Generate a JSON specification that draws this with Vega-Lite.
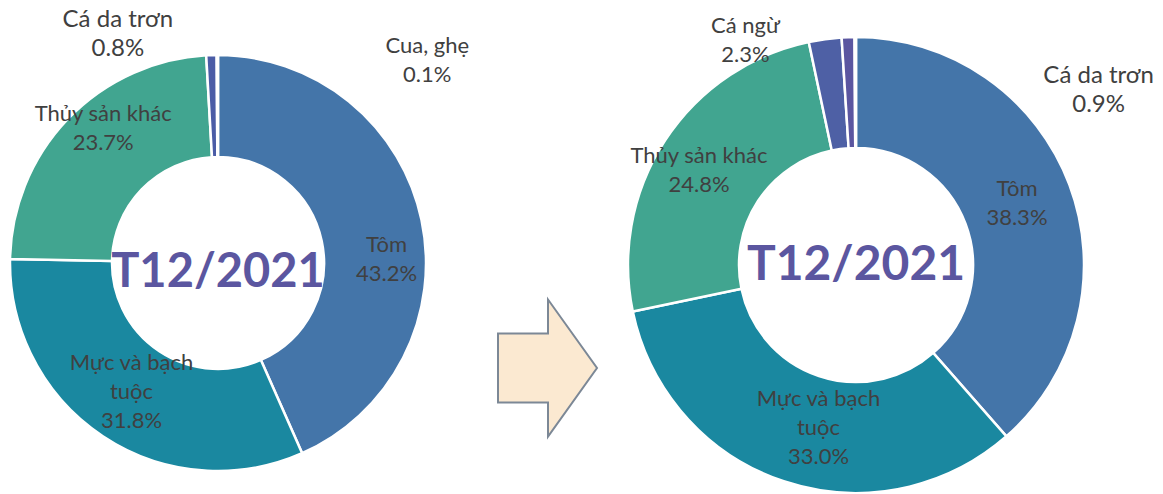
{
  "$schema": "https://vega.github.io/schema/vega-lite/v6.json",
  "padding": 0,
  "spacing": 0,
  "bounds": "flush",
  "background": "white",
  "config": {"view": {"stroke": null}},
  "datasets": {
    "left": [
      {"period": "T12/2021", "category": "Tôm", "value": 43.2, "label": "Tôm\n43.2%"},
      {"period": "T12/2021", "category": "Mực và bạch tuộc", "value": 31.8, "label": "Mực và bạch\ntuộc\n31.8%"},
      {"period": "T12/2021", "category": "Thủy sản khác", "value": 23.7, "label": "Thủy sản khác\n23.7%"},
      {"period": "T12/2021", "category": "Cá da trơn", "value": 0.8, "label": "Cá da trơn\n0.8%"},
      {"period": "T12/2021", "category": "Cua, ghẹ", "value": 0.1, "label": "Cua, ghẹ\n0.1%"}
    ],
    "right": [
      {"period": "T12/2021", "category": "Tôm", "value": 38.3, "label": "Tôm\n38.3%"},
      {"period": "T12/2021", "category": "Mực và bạch tuộc", "value": 33.0, "label": "Mực và bạch\ntuộc\n33.0%"},
      {"period": "T12/2021", "category": "Thủy sản khác", "value": 24.8, "label": "Thủy sản khác\n24.8%"},
      {"period": "T12/2021", "category": "Cá ngừ", "value": 2.3, "label": "Cá ngừ\n2.3%"},
      {"period": "T12/2021", "category": "Cá da trơn", "value": 0.9, "label": "Cá da trơn\n0.9%"},
      {"period": "T12/2021", "category": "Cua, ghẹ", "value": 0.1, "label": ""}
    ]
  },
  "resolve": {"scale": {"color": "independent", "theta": "independent", "y": "independent"}},
  "hconcat": [
    {
      "width": 436,
      "height": 494,
      "data": {"name": "left"},
      "transform": [{"window": [{"op": "row_number", "as": "idx"}]}],
      "encoding": {"y": {"field": "period", "type": "nominal", "scale": {"type": "point", "align": 0.5324}, "axis": null}},
      "layer": [
        {
          "mark": {"type": "arc", "outerRadius": 208, "innerRadius": 106, "stroke": "white", "strokeWidth": 2.5},
          "encoding": {
            "theta": {"field": "value", "type": "quantitative", "stack": true},
            "order": {"field": "idx"},
            "color": {"field": "category", "type": "nominal", "legend": null,
              "scale": {"domain": ["Tôm", "Mực và bạch tuộc", "Thủy sản khác", "Cá da trơn", "Cua, ghẹ"],
                        "range": ["#4475A9", "#1A88A0", "#41A590", "#4B5CA6", "#C9D4E8"]}}
          }
        },
        {
          "mark": {"type": "text", "font": "Lato", "fontSize": 22, "color": "#404040", "align": "center", "baseline": "middle", "lineBreak": "\n", "lineHeight": 29, "radius": 158, "dx": 14, "dy": 15},
          "encoding": {"theta": {"field": "value", "type": "quantitative", "stack": true}, "order": {"field": "idx"}, "detail": {"field": "category"},
            "text": {"condition": {"test": "datum.category === 'Tôm'", "field": "label"}, "value": ""}}
        },
        {
          "mark": {"type": "text", "font": "Lato", "fontSize": 22, "color": "#404040", "align": "center", "baseline": "middle", "lineBreak": "\n", "lineHeight": 29, "radius": 158, "dx": 1, "dy": -32},
          "encoding": {"theta": {"field": "value", "type": "quantitative", "stack": true}, "order": {"field": "idx"}, "detail": {"field": "category"},
            "text": {"condition": {"test": "datum.category === 'Mực và bạch tuộc'", "field": "label"}, "value": ""}}
        },
        {
          "mark": {"type": "text", "font": "Lato", "fontSize": 22, "color": "#404040", "align": "center", "baseline": "middle", "lineBreak": "\n", "lineHeight": 29, "radius": 158, "dx": -1, "dy": -39},
          "encoding": {"theta": {"field": "value", "type": "quantitative", "stack": true}, "order": {"field": "idx"}, "detail": {"field": "category"},
            "text": {"condition": {"test": "datum.category === 'Thủy sản khác'", "field": "label"}, "value": ""}}
        },
        {
          "mark": {"type": "text", "font": "Lato", "fontSize": 24, "color": "#404040", "align": "center", "baseline": "middle", "lineBreak": "\n", "lineHeight": 29, "radius": 100, "dx": -97, "dy": -143},
          "encoding": {"theta": {"field": "value", "type": "quantitative", "stack": true}, "order": {"field": "idx"}, "detail": {"field": "category"},
            "text": {"condition": {"test": "datum.category === 'Cá da trơn'", "field": "label"}, "value": ""}}
        },
        {
          "mark": {"type": "text", "font": "Lato", "fontSize": 22, "color": "#404040", "align": "center", "baseline": "middle", "lineBreak": "\n", "lineHeight": 29, "radius": 230, "dx": 210, "dy": 13},
          "encoding": {"theta": {"field": "value", "type": "quantitative", "stack": true}, "order": {"field": "idx"}, "detail": {"field": "category"},
            "text": {"condition": {"test": "datum.category === 'Cua, ghẹ'", "field": "label"}, "value": ""}}
        },
        {
          "transform": [{"aggregate": [], "groupby": ["period"]}],
          "mark": {"type": "text", "font": "Lato", "fontSize": 47, "fontWeight": "bold", "color": "#5B56A0", "align": "center", "baseline": "alphabetic", "dy": 24},
          "encoding": {"text": {"field": "period", "type": "nominal"}}
        }
      ]
    },
    {
      "width": 222,
      "height": 494,
      "data": {"values": [{"symbol": "arrow"}]},
      "mark": {"type": "point", "shape": "M-0.98,-0.69L0.02,-0.69L0.02,-1.37L1,0L0.02,1.37L0.02,0.69L-0.98,0.69Z", "size": 10000, "filled": true, "fill": "#FBE9D1", "stroke": "#7C8896", "strokeWidth": 2, "opacity": 1, "fillOpacity": 1, "strokeOpacity": 1},
      "encoding": {"y": {"field": "symbol", "type": "nominal", "scale": {"type": "point", "align": 0.745}, "axis": null}}
    },
    {
      "width": 396,
      "height": 494,
      "data": {"name": "right"},
      "transform": [{"window": [{"op": "row_number", "as": "idx"}]}],
      "encoding": {"y": {"field": "period", "type": "nominal", "scale": {"type": "point", "align": 0.5364}, "axis": null}},
      "layer": [
        {
          "mark": {"type": "arc", "outerRadius": 228, "innerRadius": 117, "stroke": "white", "strokeWidth": 2.5},
          "encoding": {
            "theta": {"field": "value", "type": "quantitative", "stack": true},
            "order": {"field": "idx"},
            "color": {"field": "category", "type": "nominal", "legend": null,
              "scale": {"domain": ["Tôm", "Mực và bạch tuộc", "Thủy sản khác", "Cá ngừ", "Cá da trơn", "Cua, ghẹ"],
                        "range": ["#4475A9", "#1A88A0", "#41A590", "#4E60A5", "#5B56A0", "#2A3C62"]}}
          }
        },
        {
          "mark": {"type": "text", "font": "Lato", "fontSize": 22, "color": "#404040", "align": "center", "baseline": "middle", "lineBreak": "\n", "lineHeight": 29, "radius": 172, "dx": 0, "dy": -15},
          "encoding": {"theta": {"field": "value", "type": "quantitative", "stack": true}, "order": {"field": "idx"}, "detail": {"field": "category"},
            "text": {"condition": {"test": "datum.category === 'Tôm'", "field": "label"}, "value": ""}}
        },
        {
          "mark": {"type": "text", "font": "Lato", "fontSize": 22, "color": "#404040", "align": "center", "baseline": "middle", "lineBreak": "\n", "lineHeight": 29, "radius": 172, "dx": 17, "dy": -29},
          "encoding": {"theta": {"field": "value", "type": "quantitative", "stack": true}, "order": {"field": "idx"}, "detail": {"field": "category"},
            "text": {"condition": {"test": "datum.category === 'Mực và bạch tuộc'", "field": "label"}, "value": ""}}
        },
        {
          "mark": {"type": "text", "font": "Lato", "fontSize": 22, "color": "#404040", "align": "center", "baseline": "middle", "lineBreak": "\n", "lineHeight": 29, "radius": 172, "dx": -13, "dy": -15},
          "encoding": {"theta": {"field": "value", "type": "quantitative", "stack": true}, "order": {"field": "idx"}, "detail": {"field": "category"},
            "text": {"condition": {"test": "datum.category === 'Thủy sản khác'", "field": "label"}, "value": ""}}
        },
        {
          "mark": {"type": "text", "font": "Lato", "fontSize": 22, "color": "#404040", "align": "center", "baseline": "middle", "lineBreak": "\n", "lineHeight": 29, "radius": 240, "dx": -78, "dy": -1},
          "encoding": {"theta": {"field": "value", "type": "quantitative", "stack": true}, "order": {"field": "idx"}, "detail": {"field": "category"},
            "text": {"condition": {"test": "datum.category === 'Cá ngừ'", "field": "label"}, "value": ""}}
        },
        {
          "mark": {"type": "text", "font": "Lato", "fontSize": 24, "color": "#404040", "align": "center", "baseline": "middle", "lineBreak": "\n", "lineHeight": 29, "radius": 40, "dx": 244, "dy": -149},
          "encoding": {"theta": {"field": "value", "type": "quantitative", "stack": true}, "order": {"field": "idx"}, "detail": {"field": "category"},
            "text": {"condition": {"test": "datum.category === 'Cá da trơn'", "field": "label"}, "value": ""}}
        },
        {
          "transform": [{"aggregate": [], "groupby": ["period"]}],
          "mark": {"type": "text", "font": "Lato", "fontSize": 48, "fontWeight": "bold", "color": "#5B56A0", "align": "center", "baseline": "alphabetic", "dy": 15},
          "encoding": {"text": {"field": "period", "type": "nominal"}}
        }
      ]
    }
  ]
}
